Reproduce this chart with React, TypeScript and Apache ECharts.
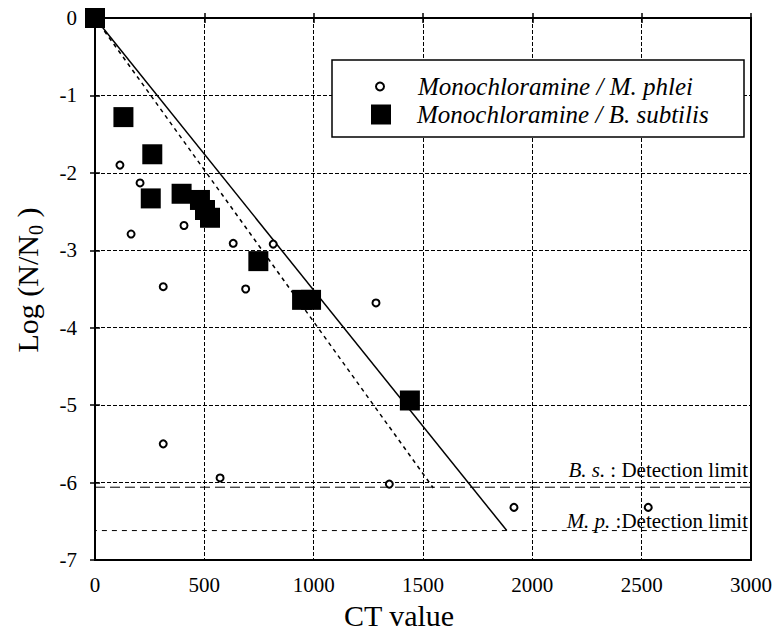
import React, { useEffect, useRef } from "react";
import * as echarts from "echarts";

const xTicks = [0, 500, 1000, 1500, 2000, 2500, 3000];
const yTicks = [0, -1, -2, -3, -4, -5, -6, -7];

const bsCT = [0, 130, 262, 255, 396, 480, 503, 526, 747, 947, 988, 1440];
const bsLog = [0, -1.28, -1.76, -2.33, -2.27, -2.35, -2.48, -2.58, -3.14, -3.64, -3.64, -4.94];

const mpCT = [114, 206, 165, 407, 632, 815, 312, 689, 1285, 312, 572, 1346, 1916, 2530];
const mpLog = [-1.9, -2.13, -2.79, -2.68, -2.91, -2.92, -3.47, -3.5, -3.68, -5.5, -5.94, -6.02, -6.32, -6.32];

const solidFitCT = [0, 1883];
const solidFitLog = [0, -6.62];
const dashFitCT = [0, 1547];
const dashFitLog = [0, -6.07];

const bsLimitCT = [0, 3000];
const bsLimitLog = [-6.06, -6.06];
const mpLimitCT = [-60, 3000];
const mpLimitLog = [-6.62, -6.62];

const zip = (a: number[], b: number[]) => a.map((v, i) => [v, b[i]]);

const FONT = "Liberation Serif";

export default function App() {
  const ref = useRef<HTMLDivElement>(null);
  useEffect(() => {
    if (!ref.current) return;
    const chart = echarts.init(ref.current, undefined, { renderer: "svg" });
    const axisCommon = {
      axisLine: { show: true, lineStyle: { color: "#000", width: 2 } },
      axisTick: { show: true, inside: true, length: 5, lineStyle: { color: "#000", width: 1.5 } },
    };
    const fmt = (v: number) => String(v);
    chart.setOption({
      animation: false,
      backgroundColor: "#fff",
      textStyle: { fontFamily: FONT, color: "#000" },
      grid: { left: 95, right: 25, top: 18, bottom: 74, show: true, borderColor: "#000", borderWidth: 2 },
      xAxis: [
        {
          type: "value",
          min: xTicks[0],
          max: xTicks[xTicks.length - 1],
          interval: 500,
          ...axisCommon,
          axisLabel: { color: "#000", fontFamily: FONT, fontSize: 21, margin: 14, formatter: fmt },
          splitLine: { show: true, lineStyle: { color: "#000", width: 1, type: [4, 2] } },
        },
        {
          type: "value",
          position: "top",
          min: xTicks[0],
          max: xTicks[xTicks.length - 1],
          interval: 500,
          ...axisCommon,
          axisLabel: { show: false },
          splitLine: { show: false },
        },
      ],
      yAxis: [
        {
          type: "value",
          min: yTicks[yTicks.length - 1],
          max: yTicks[0],
          interval: 1,
          ...axisCommon,
          axisLabel: { color: "#000", fontFamily: FONT, fontSize: 21, margin: 18, formatter: fmt },
          splitLine: { show: true, lineStyle: { color: "#000", width: 1, type: [4, 2] } },
        },
        {
          type: "value",
          position: "right",
          min: yTicks[yTicks.length - 1],
          max: yTicks[0],
          interval: 1,
          ...axisCommon,
          axisLabel: { show: false },
          splitLine: { show: false },
        },
      ],
      legend: [
        {
          data: ["Monochloramine / M. phlei"],
          left: 375,
          top: 74,
          padding: 0,
          itemWidth: 8,
          itemHeight: 8,
          z: 10,
          textStyle: { fontFamily: FONT, fontStyle: "italic", fontSize: 25, color: "#000", lineHeight: 24, padding: [0, 0, 0, 29] },
        },
        {
          data: ["Monochloramine / B. subtilis"],
          left: 371,
          top: 102,
          padding: 0,
          itemWidth: 20,
          itemHeight: 20,
          z: 10,
          textStyle: { fontFamily: FONT, fontStyle: "italic", fontSize: 25, color: "#000", lineHeight: 24, padding: [0, 0, 0, 21] },
        },
      ],
      graphic: [
        {
          type: "rect",
          z: 8,
          shape: { x: 332, y: 60, width: 412, height: 77 },
          style: { fill: "#fff", stroke: "#000", lineWidth: 1.5 },
        },
        {
          type: "text",
          x: 399,
          y: 615,
          style: { text: "CT value", fontFamily: FONT, fontSize: 30, fill: "#000", align: "center", verticalAlign: "middle" },
        },
        {
          type: "text",
          x: 27,
          y: 280,
          rotation: Math.PI / 2,
          style: {
            text: "{a|Log (N/N}{s|0}{a| )}",
            align: "center",
            verticalAlign: "middle",
            fill: "#000",
            rich: {
              a: { fontFamily: FONT, fontSize: 30, fill: "#000", lineHeight: 36 },
              s: { fontFamily: FONT, fontSize: 20, fill: "#000", padding: [18, 0, 0, 0] },
            },
          },
        },
        {
          type: "text",
          x: 748,
          y: 470,
          z: 10,
          style: {
            text: "{i|B. s.}{n| : Detection limit}",
            align: "right",
            verticalAlign: "middle",
            rich: {
              i: { fontFamily: FONT, fontStyle: "italic", fontSize: 21, fill: "#000" },
              n: { fontFamily: FONT, fontSize: 21, fill: "#000" },
            },
          },
        },
        {
          type: "text",
          x: 748,
          y: 521,
          z: 10,
          style: {
            text: "{i|M. p.}{n| :Detection limit}",
            align: "right",
            verticalAlign: "middle",
            rich: {
              i: { fontFamily: FONT, fontStyle: "italic", fontSize: 21, fill: "#000" },
              n: { fontFamily: FONT, fontSize: 21, fill: "#000" },
            },
          },
        },
      ],
      series: [
        {
          name: "Solid fit",
          type: "line",
          data: zip(solidFitCT, solidFitLog),
          symbol: "none",
          lineStyle: { color: "#000", width: 1.5, type: "solid" },
          z: 1,
        },
        {
          name: "Dashed fit",
          type: "line",
          data: zip(dashFitCT, dashFitLog),
          symbol: "none",
          lineStyle: { color: "#000", width: 1.5, type: [4, 4] },
          z: 1,
        },
        {
          name: "B. s. limit",
          type: "line",
          data: zip(bsLimitCT, bsLimitLog),
          symbol: "none",
          lineStyle: { color: "#000", width: 1, type: [10, 5] },
          z: 1,
        },
        {
          name: "M. p. limit",
          type: "line",
          data: zip(mpLimitCT, mpLimitLog),
          symbol: "none",
          clip: false,
          lineStyle: { color: "#000", width: 1, type: [5, 5] },
          z: 1,
        },
        {
          name: "Monochloramine / M. phlei",
          type: "scatter",
          data: zip(mpCT, mpLog),
          symbol: "emptyCircle",
          symbolSize: 7,
          itemStyle: { color: "#000", borderColor: "#000", borderWidth: 2, opacity: 1 },
          z: 3,
        },
        {
          name: "Monochloramine / B. subtilis",
          type: "scatter",
          data: zip(bsCT, bsLog),
          symbol: "rect",
          symbolSize: 20,
          itemStyle: { color: "#000", opacity: 1 },
          z: 4,
        },
      ],
    });
    return () => chart.dispose();
  }, []);
  return (
    <div
      ref={ref}
      style={{ position: "fixed", left: 0, top: 0, width: 776, height: 634, background: "#fff" }}
    />
  );
}
